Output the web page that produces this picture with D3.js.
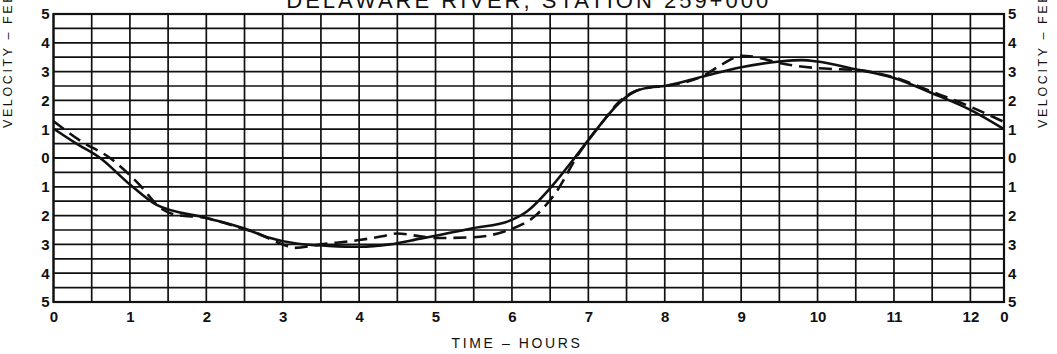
<!DOCTYPE html>
<html><head><meta charset="utf-8">
<script src="https://cdn.jsdelivr.net/npm/d3@7"></script>
<style>body{margin:0;background:#fff}svg{display:block}</style>
</head><body>
<svg id="c" width="1057" height="354"></svg>
<script>
// ---- data ----
const titleText = "DELAWARE RIVER, STATION 259+000";
const xLabel = "TIME – HOURS";
const yLabel = "VELOCITY – FEET PER SECOND";
const hourTicks = [0,1,2,3,4,5,6,7,8,9,10,11,12];
const hourTickLabels = ["0","1","2","3","4","5","6","7","8","9","10","11","12"];
const cycleEnd = 12.44;
const cycleEndLabel = "0";
const velTicks = [5,4,3,2,1,0,-1,-2,-3,-4,-5];
const velTickLabels = ["5","4","3","2","1","0","1","2","3","4","5"];

const solidHours = [0,0.3,0.61,1.0,1.35,2.0,2.5,2.8,3.2,3.6,4.0,4.4,4.8,5.0,5.5,5.95,6.2,6.5,6.82,7.0,7.2,7.4,7.6,7.8,8.0,8.5,9.0,9.5,9.8,10.0,10.5,11.0,11.5,12.0,12.44];
const solidVel   = [1.02,0.5,0,-0.92,-1.63,-2.08,-2.45,-2.75,-2.98,-3.05,-3.08,-3.0,-2.8,-2.7,-2.43,-2.2,-1.85,-1.05,0,0.62,1.3,1.9,2.3,2.45,2.5,2.83,3.15,3.35,3.4,3.35,3.08,2.78,2.25,1.67,1.0];

const dashHours = [0,0.35,0.74,1.13,1.4,1.6,2.0,2.35,2.65,3.0,3.15,3.5,4.0,4.3,4.5,4.8,5.0,5.5,5.9,6.33,6.6,6.85,7.0,7.2,7.4,7.6,7.8,8.0,8.5,8.75,9.0,9.15,9.5,10.0,10.3,10.5,11.0,11.5,12.0,12.44];
const dashVel   = [1.28,0.6,0,-0.94,-1.74,-1.97,-2.08,-2.35,-2.6,-3.0,-3.12,-3.0,-2.85,-2.72,-2.62,-2.72,-2.78,-2.75,-2.55,-1.95,-1.1,0.05,0.62,1.3,1.95,2.3,2.45,2.5,2.85,3.25,3.55,3.52,3.3,3.12,3.08,3.06,2.8,2.3,1.78,1.25];

// ---- layout ----
const svg = d3.select("#c");
const L = 53.5, R = 1004, T = 14, B = 302;
const x = d3.scaleLinear().domain([0, cycleEnd]).range([L, R]);
const y = d3.scaleLinear().domain([-5, 5]).range([B, T]);
const ink = "#111";
const font = "'Liberation Sans', Arial, sans-serif";

// grid
const g = svg.append("g");
const vgrid = d3.range(0, 12.01, 0.5);
g.selectAll("line.v").data(vgrid).join("line")
  .attr("x1", d => x(d)).attr("x2", d => x(d)).attr("y1", T).attr("y2", B)
  .attr("stroke", ink).attr("stroke-width", 1.7);
const hgrid = d3.range(-5, 5.01, 0.5);
g.selectAll("line.h").data(hgrid).join("line")
  .attr("x1", L).attr("x2", R).attr("y1", d => y(d)).attr("y2", d => y(d))
  .attr("stroke", ink).attr("stroke-width", d => d === 0 ? 2 : 1.7);
g.append("rect").attr("x", L).attr("y", T).attr("width", R - L).attr("height", B - T)
  .attr("fill", "none").attr("stroke", ink).attr("stroke-width", 2.2);

// axes labels
const xAxis = d3.axisBottom(x).tickValues(hourTicks.concat([cycleEnd])).tickSize(0).tickPadding(9)
  .tickFormat((d, i) => i < hourTickLabels.length ? hourTickLabels[i] : cycleEndLabel);
const xa = svg.append("g").attr("transform", `translate(0,${B})`).call(xAxis);
xa.select(".domain").remove();
xa.selectAll("text").attr("font-family", font).attr("font-size", 15).attr("font-weight", "bold").attr("fill", ink);

const yAxisL = d3.axisLeft(y).tickValues(velTicks).tickSize(0).tickPadding(4)
  .tickFormat((d, i) => velTickLabels[i]);
const yl = svg.append("g").attr("transform", `translate(${L},0)`).call(yAxisL);
yl.select(".domain").remove();
yl.selectAll("text").attr("font-family", font).attr("font-size", 15).attr("font-weight", "bold").attr("fill", ink);

const yAxisR = d3.axisRight(y).tickValues(velTicks).tickSize(0).tickPadding(4)
  .tickFormat((d, i) => velTickLabels[i]);
const yr = svg.append("g").attr("transform", `translate(${R},0)`).call(yAxisR);
yr.select(".domain").remove();
yr.selectAll("text").attr("font-family", font).attr("font-size", 15).attr("font-weight", "bold").attr("fill", ink);

// titles
svg.append("text").attr("x", (L + R) / 2).attr("y", 8).attr("text-anchor", "middle")
  .attr("font-family", font).attr("font-size", 22).attr("letter-spacing", 3).attr("fill", ink)
  .text(titleText);
svg.append("text").attr("x", 517).attr("y", 348).attr("text-anchor", "middle")
  .attr("font-family", font).attr("font-size", 14).attr("letter-spacing", 2.6).attr("fill", ink)
  .text(xLabel);
[12, 1047].forEach(cx => {
  svg.append("text").attr("transform", `translate(${cx},128) rotate(-90)`)
    .attr("text-anchor", "start").attr("font-family", font).attr("font-size", 12.5)
    .attr("letter-spacing", 2.6).attr("fill", ink).text(yLabel);
});

// lines
const line = d3.line().x(d => x(d[0])).y(d => y(d[1])).curve(d3.curveMonotoneX);
svg.append("path").datum(solidHours.map((h, i) => [h, solidVel[i]]))
  .attr("d", line).attr("fill", "none").attr("stroke", ink).attr("stroke-width", 2.6);
svg.append("path").datum(dashHours.map((h, i) => [h, dashVel[i]]))
  .attr("d", line).attr("fill", "none").attr("stroke", ink).attr("stroke-width", 2.6)
  .attr("stroke-dasharray", "13,7");
</script>
</body></html>
